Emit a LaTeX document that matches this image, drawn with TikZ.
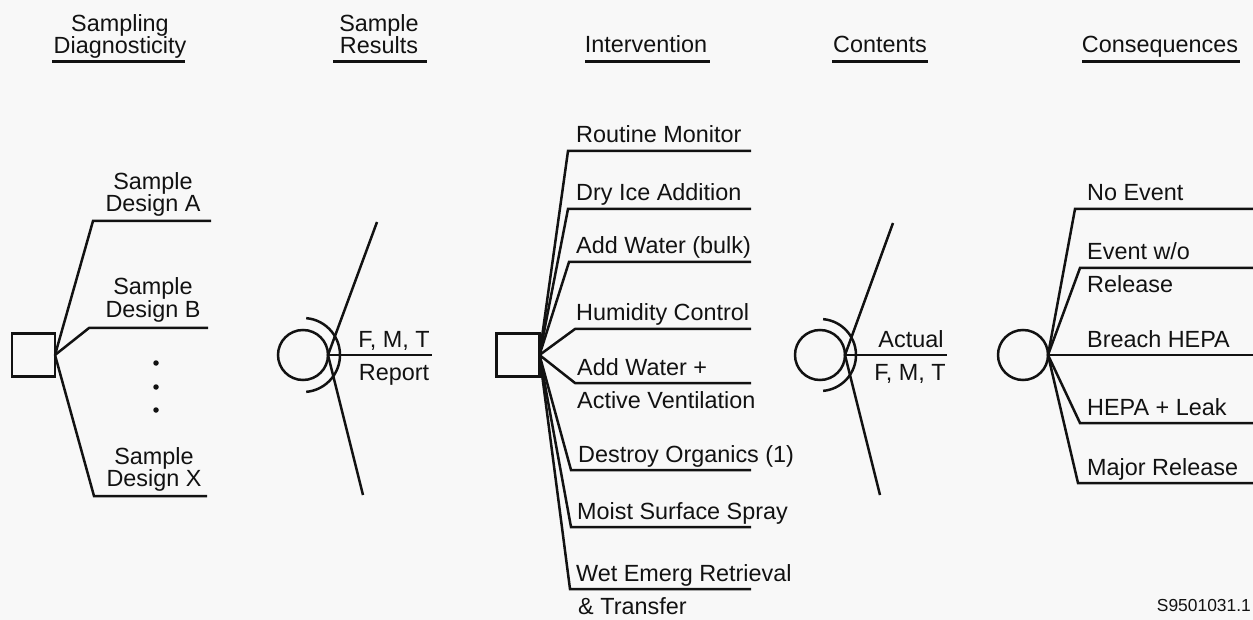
\documentclass[tikz,border=0pt]{standalone}
\usepackage{fontspec}
\setmainfont{Liberation Sans}
\definecolor{bg}{RGB}{248,248,248}
\definecolor{ink}{RGB}{18,18,18}
\begin{document}
\begin{tikzpicture}[x=1pt,y=-1pt,
  ln/.style={line width=2.5pt, draw=ink, line join=miter},
  ul/.style={line width=2.5pt, draw=ink},
  dec/.style={draw=ink, line width=2.5pt, rectangle, minimum size=43pt, inner sep=0pt, outer sep=0pt},
  chance/.style={draw=ink, line width=2.5pt, circle, minimum size=50pt, inner sep=0pt, outer sep=0pt},
  lbl/.style={anchor=base west, inner sep=0pt, text=ink, font=\fontsize{23.4}{26}\selectfont},
  ctr/.style={anchor=base, inner sep=0pt, text=ink, font=\fontsize{23.4}{26}\selectfont},
  dotm/.style={fill=ink, circle, inner sep=0pt, minimum size=5.5pt}]
\fill[bg] (0,0) rectangle (1253,620);
\clip (0,0) rectangle (1253,620);

% ---------- headers ----------
\node[ctr] (h1a) at (120,32) {Sampling};
\node[ctr] (h1b) at (120,54) {Diagnosticity};
\draw[ul] (52,61.5) -- (185,61.5);
\node[ctr] (h2a) at (379,32) {Sample};
\node[ctr] (h2b) at (379,54) {Results};
\draw[ul] (333,61.5) -- (427,61.5);
\node[ctr] (h3) at (646,53) {Intervention};
\draw[ul] (585,61.5) -- (710,61.5);
\node[ctr] (h4) at (880,53) {Contents};
\draw[ul] (832,61.5) -- (928,61.5);
\node[ctr] (h5) at (1160,53) {Consequences};
\draw[ul] (1082,61.5) -- (1240,61.5);

% ---------- sampling decision ----------
\node[dec] (s1) at (33.5,355) {};
\coordinate (a1) at (93,221);  \coordinate (a2) at (211,221);
\coordinate (b1) at (89,328);  \coordinate (b2) at (208,328);
\coordinate (x1) at (94,496);  \coordinate (x2) at (207,496);
\draw[ln] (s1.east) -- (a1) -- (a2);
\draw[ln] (s1.east) -- (b1) -- (b2);
\draw[ln] (s1.east) -- (x1) -- (x2);
\node[ctr] (la1) at (153,190) {Sample};
\node[ctr] (la2) at (153,212) {Design A};
\node[ctr] (lb1) at (153,295) {Sample};
\node[ctr] (lb2) at (153,317) {Design B};
\node[ctr] (lx1) at (154,464) {Sample};
\node[ctr] (lx2) at (154,486) {Design X};
\node[dotm] (d1) at (156,363) {};
\node[dotm] (d2) at (156,387) {};
\node[dotm] (d3) at (156,410) {};

% ---------- sample results chance ----------
\node[chance] (c1) at (303,355) {};
\draw[ln] ([shift={(85:37pt)}]c1.center) arc[start angle=85, end angle=-85, radius=37pt];
\coordinate (c1t) at (377,222); \coordinate (c1b) at (363,495); \coordinate (c1r) at (432,355);
\draw[ln] (c1t) -- (c1.east) -- (c1b);
\draw[ln] (c1.east) -- (c1r);
\node[ctr] (r1) at (394,348) {F, M, T};
\node[ctr] (r2) at (394,380) {Report};

% ---------- intervention decision ----------
\node[dec] (s2) at (518,355) {};
\coordinate (i1) at (568,151); \coordinate (i1e) at (751,151);
\coordinate (i2) at (568,209); \coordinate (i2e) at (751,209);
\coordinate (i3) at (569,262); \coordinate (i3e) at (751,262);
\coordinate (i4) at (575,329); \coordinate (i4e) at (751,329);
\coordinate (i5) at (575,383); \coordinate (i5e) at (751,383);
\coordinate (i6) at (571,470); \coordinate (i6e) at (751,470);
\coordinate (i7) at (571,527); \coordinate (i7e) at (751,527);
\coordinate (i8) at (570,589); \coordinate (i8e) at (751,589);
\foreach \k in {1,...,8} {\draw[ln] (s2.east) -- (i\k) -- (i\k e);}
\node[lbl] (t1) at (576,143) {Routine Monitor};
\node[lbl] (t2) at (576,201) {Dry Ice Addition};
\node[lbl] (t3) at (576,254) {Add Water (bulk)};
\node[lbl] (t4) at (576,321) {Humidity Control};
\node[lbl] (t5) at (577,375) {Add Water +};
\node[lbl] (t5b) at (577,408) {Active Ventilation};
\node[lbl] (t6) at (578,462) {Destroy Organics (1)};
\node[lbl] (t7) at (577,519) {Moist Surface Spray};
\node[lbl] (t8) at (576,581) {Wet Emerg Retrieval};
\node[lbl] (t8b) at (578,614) {\& Transfer};

% ---------- contents chance ----------
\node[chance] (c2) at (820,355) {};
\draw[ln] ([shift={(85:36pt)}]c2.center) arc[start angle=85, end angle=-85, radius=36pt];
\coordinate (c2t) at (893,223); \coordinate (c2b) at (880,495); \coordinate (c2r) at (947,355);
\draw[ln] (c2t) -- (c2.east) -- (c2b);
\draw[ln] (c2.east) -- (c2r);
\node[ctr] (k1) at (911,348) {Actual};
\node[ctr] (k2) at (910,380) {F, M, T};

% ---------- consequences chance ----------
\node[chance] (c3) at (1023,355) {};
\coordinate (e1) at (1075,209); \coordinate (e1e) at (1253,209);
\coordinate (e2) at (1080,268); \coordinate (e2e) at (1253,268);
\coordinate (e3e) at (1253,355);
\coordinate (e4) at (1080,423); \coordinate (e4e) at (1253,423);
\coordinate (e5) at (1078,483); \coordinate (e5e) at (1253,483);
\draw[ln] (c3.east) -- (e1) -- (e1e);
\draw[ln] (c3.east) -- (e2) -- (e2e);
\draw[ln] (c3.east) -- (e3e);
\draw[ln] (c3.east) -- (e4) -- (e4e);
\draw[ln] (c3.east) -- (e5) -- (e5e);
\node[lbl] (q1) at (1087,201) {No Event};
\node[lbl] (q2) at (1087,260) {Event w/o};
\node[lbl] (q2b) at (1087,293) {Release};
\node[lbl] (q3) at (1087,347) {Breach HEPA};
\node[lbl] (q4) at (1087,415) {HEPA + Leak};
\node[lbl] (q5) at (1087,475) {Major Release};

% ---------- figure id ----------
\node[anchor=base east, inner sep=0pt, text=ink, font=\fontsize{17.4}{20}\selectfont] (fid) at (1251,611) {S9501031.1};
\end{tikzpicture}
\end{document}
